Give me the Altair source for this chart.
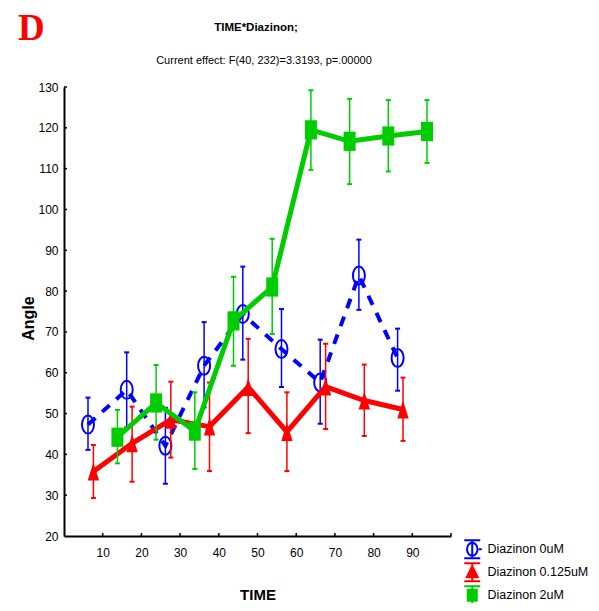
import altair as alt
import pandas as pd

# ---------------- data ----------------
times = [10, 20, 30, 40, 50, 60, 70, 80, 90]
series_names = ["Diazinon 0uM", "Diazinon 0.125uM", "Diazinon 2uM"]

mean_0uM = [47.3, 55.8, 42.1, 61.7, 74.4, 65.8, 57.6, 83.8, 63.6]
low_0uM = [41.1, 46.6, 32.8, 51.5, 63.2, 56.5, 47.5, 75.4, 55.6]
high_0uM = [53.9, 65.0, 51.4, 72.4, 86.0, 75.6, 68.1, 92.6, 70.8]

mean_0125uM = [35.8, 42.7, 48.5, 46.8, 56.5, 45.5, 56.6, 53.2, 51.0]
low_0125uM = [29.3, 33.3, 39.2, 35.9, 45.2, 35.9, 46.2, 44.5, 43.3]
high_0125uM = [42.3, 51.7, 57.8, 57.6, 68.3, 55.2, 67.1, 62.0, 58.8]

mean_2uM = [44.2, 52.6, 45.7, 72.7, 81.0, 119.5, 116.7, 118.0, 119.1]
low_2uM = [37.8, 43.6, 36.4, 61.7, 69.5, 109.7, 106.2, 109.3, 111.4]
high_2uM = [50.9, 61.9, 55.2, 83.5, 92.8, 129.2, 127.1, 126.8, 126.8]

x_label_values = [10, 20, 30, 40, 50, 60, 70, 80, 90]
x_tick_values = [10, 20, 30, 40, 50, 60, 70, 80, 90, 100]
y_label_values = [20, 30, 40, 50, 60, 70, 80, 90, 100, 110, 120, 130]
y_tick_values = [30, 40, 50, 60, 70, 80, 90, 100, 110, 120, 130]
x_domain = [0, 100]
y_domain = [20, 130]

title_text = "TIME*Diazinon;"
subtitle_text = "Current effect: F(40, 232)=3.3193, p=.00000"
panel_letter = "D"

# ---------------- style ----------------
W, H = 387, 449
PAD = {"left": 56, "top": 79, "right": 140, "bottom": 67}
FONT = "Liberation Sans, Arial, sans-serif"
colors = {"Diazinon 0uM": "#0000ff", "Diazinon 0.125uM": "#ff0000", "Diazinon 2uM": "#00cc00"}
x_offsets = {"Diazinon 0uM": -3.8, "Diazinon 0.125uM": -2.4, "Diazinon 2uM": 3.8}
marker_paths = {
    "Diazinon 0uM": "M0,-1.5A1,1.5 0 1 1 0,1.5A1,1.5 0 1 1 0,-1.5Z",
    "Diazinon 0.125uM": "M0,-1.5L0.95,1.5L-0.95,1.5Z",
    "Diazinon 2uM": "M-1,-1.6L1,-1.6L1,1.6L-1,1.6Z",
}
glyph_paths = [
    "M-1.6,-1.8L1.6,-1.8M0,-1.8L0,1.8M-1.6,1.8L1.6,1.8M0,-1.3A1.05,1.3 0 1 1 0,1.3A1.05,1.3 0 1 1 0,-1.3M1.3,0L1.9,0",
    "M-1.6,-1.8L1.6,-1.8M0,-1.8L0,1.8M-1.6,1.8L1.6,1.8M0,-1.2L1.1,1L-1.1,1Z",
    "M-1.6,-1.8L1.6,-1.8M0,-1.8L0,1.8M-1.6,1.8L1.6,1.8M-0.9,-1.1L0.9,-1.1L0.9,1.1L-0.9,1.1Z",
]

series_data = {
    "Diazinon 0uM": (mean_0uM, low_0uM, high_0uM),
    "Diazinon 0.125uM": (mean_0125uM, low_0125uM, high_0125uM),
    "Diazinon 2uM": (mean_2uM, low_2uM, high_2uM),
}
rows = []
for name in series_names:
    m, lo, hi = series_data[name]
    for t, mv, lv, hv in zip(times, m, lo, hi):
        rows.append({"series": name, "time": t, "xpos": t + x_offsets[name],
                     "mean": mv, "lo": lv, "hi": hv})
df = pd.DataFrame(rows)

x_scale = alt.Scale(domain=x_domain, nice=False, zero=False)
y_scale = alt.Scale(domain=y_domain, nice=False, zero=False)

x_axis = alt.Axis(values=x_label_values, ticks=False, grid=False, domainColor="black",
                  domainWidth=2, labelFont=FONT, labelFontSize=12, labelColor="black",
                  labelPadding=11, labelFlush=False, titleFont=FONT, titleFontSize=15,
                  titleFontWeight="bold", titleColor="black", titleX=193.5, titleY=51)
y_axis = alt.Axis(values=y_label_values, ticks=False, grid=False, domainColor="black",
                  domainWidth=2, labelFont=FONT, labelFontSize=12, labelColor="black",
                  labelPadding=6, labelFlush=False, titleFont=FONT, titleFontSize=16,
                  titleFontWeight="bold", titleColor="black", titleX=-28, titleY=231)


def X(field):
    return alt.X(f"{field}:Q", scale=x_scale, axis=x_axis, title="TIME")


def Y(field):
    return alt.Y(f"{field}:Q", scale=y_scale, axis=y_axis, title="Angle")


layers = []

# inward axis ticks
xt = alt.Chart(pd.DataFrame({"v": x_tick_values})).transform_calculate(
    base=str(y_domain[0])
).mark_point(shape="M0,0L0,-1", size=36, stroke="black", strokeWidth=1.5, opacity=1).encode(
    x=X("v"), y=Y("base"))
yt = alt.Chart(pd.DataFrame({"v": y_tick_values})).transform_calculate(
    base=str(x_domain[0])
).mark_point(shape="M0,0L1,0", size=36, stroke="black", strokeWidth=1.5, opacity=1).encode(
    x=X("base"), y=Y("v"))
layers += [xt, yt]

base = alt.Chart(df)
for name in series_names:
    c = colors[name]
    sub = base.transform_filter(alt.datum.series == name)
    layers.append(sub.mark_rule(color=c, strokeWidth=1.5).encode(x=X("xpos"), y=Y("lo"), y2="hi"))
    layers.append(sub.mark_tick(orient="horizontal", size=5, thickness=2, color=c, opacity=1).encode(
        x=X("xpos"), y=Y("hi")))
    layers.append(sub.mark_tick(orient="horizontal", size=5, thickness=2, color=c, opacity=1).encode(
        x=X("xpos"), y=Y("lo")))
    if name == "Diazinon 0uM":
        line = sub.mark_line(color=c, strokeWidth=4, strokeDash=[10, 9])
    else:
        line = sub.mark_line(color=c, strokeWidth=5)
    layers.append(line.encode(x=X("xpos"), y=Y("mean"), order="time:Q"))
    if name == "Diazinon 0uM":
        mk = sub.mark_point(shape=marker_paths[name], size=144, filled=False, color=c,
                            strokeWidth=2, opacity=1)
    else:
        mk = sub.mark_point(shape=marker_paths[name], size=144, filled=True, color=c,
                            strokeWidth=0, opacity=1)
    layers.append(mk.encode(x=X("xpos"), y=Y("mean")))

# legend-only layer (no visible marks)
leg = alt.Legend(orient="none", legendX=402, legendY=456, symbolSize=100, symbolStrokeWidth=2,
                 labelFont=FONT, labelFontSize=12.5, labelColor="black", rowPadding=-4,
                 labelOffset=9, labelLimit=200)
legend_layer = base.transform_filter("datum.mean > 100000").mark_point(opacity=1, strokeWidth=2).encode(
    x=X("xpos"), y=Y("mean"),
    shape=alt.Shape("series:N", title=None, legend=leg,
                    scale=alt.Scale(domain=series_names, range=glyph_paths)),
    stroke=alt.Stroke("series:N", title=None, legend=leg,
                      scale=alt.Scale(domain=series_names, range=[colors[n] for n in series_names])),
    fill=alt.Fill("series:N", title=None, legend=leg,
                  scale=alt.Scale(domain=series_names,
                                  range=["transparent", colors[series_names[1]], colors[series_names[2]]])),
)
layers.append(legend_layer)

# titles as text
txt = alt.Chart(pd.DataFrame({"t": [title_text, subtitle_text, panel_letter]}))
layers.append(txt.transform_filter(alt.datum.t == title_text).mark_text(
    font=FONT, fontSize=11.5, fontWeight="bold", color="black", align="center",
    baseline="alphabetic").encode(text="t:N", x=alt.value(192), y=alt.value(-56)))
layers.append(txt.transform_filter(alt.datum.t == subtitle_text).mark_text(
    font=FONT, fontSize=11, color="black", align="center",
    baseline="alphabetic").encode(text="t:N", x=alt.value(200), y=alt.value(-23)))
layers.append(txt.transform_filter(alt.datum.t == panel_letter).mark_text(
    font="Liberation Serif, Times New Roman, serif", fontSize=37, fontWeight="bold", color="#ff0000",
    align="left", baseline="alphabetic").encode(text="t:N", x=alt.value(-46), y=alt.value(-47)))

chart = alt.layer(*layers).properties(
    width=W, height=H, padding=PAD, autosize=alt.AutoSizeParams(type="none")
).configure_view(stroke=None)

chart.save("out.html", embed_options={"renderer": "svg", "actions": False})
